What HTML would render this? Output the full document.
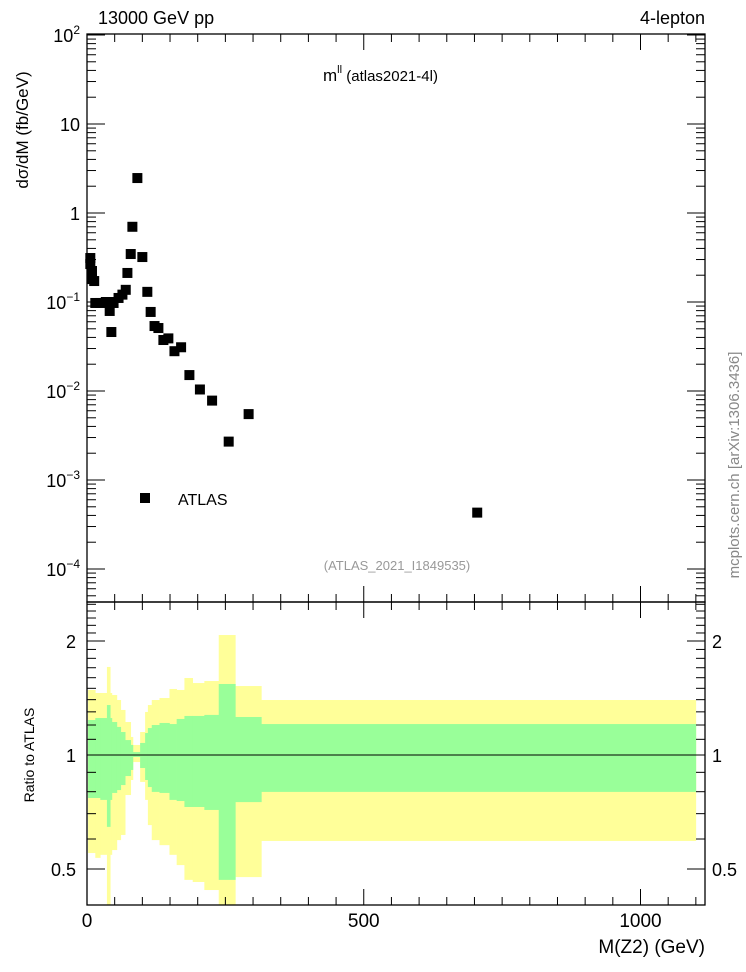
<!DOCTYPE html>
<html><head><meta charset="utf-8"><style>
html,body{margin:0;padding:0;background:#fff;}
svg{display:block;font-family:"Liberation Sans",Arial,sans-serif;}
</style></head><body>
<svg id="chart" width="746" height="972" viewBox="0 0 746 972" xmlns="http://www.w3.org/2000/svg">
<g id="bands"></g>
<g id="marks"></g>
<g id="axes"></g>
<text x="98" y="24" font-size="18">13000 GeV pp</text>
<text x="705" y="24" font-size="18" text-anchor="end">4-lepton</text>
<text x="323" y="81" font-size="17">m<tspan font-size="11" dy="-8">ll</tspan><tspan dy="8" font-size="15"> (atlas2021-4l)</tspan></text>
<rect x="140" y="493" width="10" height="10" fill="#000"/>
<text x="178" y="505" font-size="16">ATLAS</text>
<text x="397" y="570" font-size="13" fill="#999" text-anchor="middle">(ATLAS_2021_I1849535)</text>
<text transform="translate(739,465) rotate(-90)" font-size="15" fill="#888" text-anchor="middle">mcplots.cern.ch [arXiv:1306.3436]</text>
<text transform="translate(28,130) rotate(-90)" font-size="17" text-anchor="middle">dσ/dM (fb/GeV)</text>
<text transform="translate(34,755) rotate(-90)" font-size="14" text-anchor="middle">Ratio to ATLAS</text>
<text x="705" y="953" font-size="19" text-anchor="end">M(Z2) (GeV)</text>
</svg>
<script>
const xVals=[91,82,79,100,6,6,9,73,9,13,70,109,64,57,15,24,34,43,48,41,115,44,122,129,138,147,158,170,185,204,226,256,292,705];
const yVals=[2.47,0.70,0.346,0.32,0.312,0.267,0.223,0.212,0.181,0.172,0.137,0.130,0.121,0.111,0.0975,0.0975,0.100,0.100,0.0975,0.0793,0.0773,0.046,0.0537,0.051,0.0374,0.039,0.028,0.031,0.0151,0.0104,0.0078,0.0027,0.0055,0.00043];
const binEdges=[2,15,24,36,42,45,54,61,69,79,83,96,105,110,117,131,149,162,176,191,212,238,268,315,1100];
const greenUp=[1.237,1.252,1.252,1.355,1.252,1.222,1.186,1.150,1.095,1.063,1.018,1.076,1.143,1.178,1.200,1.215,1.207,1.245,1.268,1.268,1.276,1.540,1.260,1.207];
const greenDn=[0.770,0.770,0.761,0.646,0.761,0.794,0.808,0.833,0.880,0.913,0.988,0.924,0.859,0.823,0.799,0.794,0.761,0.756,0.729,0.729,0.716,0.468,0.751,0.799];
const yellowUp=[1.485,1.458,1.458,1.708,1.458,1.440,1.397,1.315,1.222,1.116,1.063,1.150,1.299,1.355,1.397,1.414,1.494,1.485,1.597,1.549,1.568,2.074,1.521,1.397];
const yellowDn=[0.551,0.535,0.545,0.40,0.545,0.561,0.596,0.615,0.784,0.859,0.958,0.849,0.761,0.653,0.596,0.578,0.545,0.512,0.468,0.462,0.440,0.40,0.476,0.593];
const xTickLabels=[0,500,1000];
const yTickExp=[2,1,0,-1,-2,-3,-4];
const ratioTicks=[2,1,0.5];

const NS="http://www.w3.org/2000/svg";
const L=87,R=705,T=34,B1=602,B2=905;
const X=v=>L+v*0.5535;
const Y=v=>213-89*Math.log10(v);
const RY=v=>755-114*Math.log2(v);
const clipR=y=>Math.max(B1,Math.min(B2,y));
function mk(tag,attrs,parent){const e=document.createElementNS(NS,tag);for(const k in attrs)e.setAttribute(k,attrs[k]);parent.appendChild(e);return e;}
const bands=document.getElementById('bands'),marks=document.getElementById('marks'),axes=document.getElementById('axes');
for(let i=0;i<greenUp.length;i++){
  const x0=X(binEdges[i]),x1=Math.min(X(binEdges[i+1]),R);
  const ya=clipR(RY(yellowUp[i])),yb=clipR(RY(yellowDn[i]));
  const r=mk('rect',{x:x0,y:ya,width:x1-x0+0.3,height:yb-ya,fill:'#ffff99'},bands);
  
  
}
for(let i=0;i<greenUp.length;i++){
  const x0=X(binEdges[i]),x1=Math.min(X(binEdges[i+1]),R);
  const ga=clipR(RY(greenUp[i])),gb=clipR(RY(greenDn[i]));
  const r=mk('rect',{x:x0,y:ga,width:x1-x0+0.3,height:gb-ga,fill:'#99ff99'},bands);
  
  
}
const one=mk('line',{x1:L,x2:R,y1:RY(1),y2:RY(1),stroke:'#000','stroke-width':1},bands);


for(let i=0;i<xVals.length;i++){
  const m=mk('rect',{x:X(xVals[i])-5,y:Y(yVals[i])-5,width:10,height:10,fill:'#000'},marks);
  
  
}
// frames
for(const [y0,y1] of [[T,B1],[B1,B2]]){
  const f=mk('rect',{x:L,y:y0,width:R-L,height:y1-y0,fill:'none',stroke:'#000','stroke-width':1.3},axes);
  
  
}
// x ticks
for(let v=0;v<=1100;v+=50){
  const x=X(v);const major=v%500===0;const len=major?18:(v%100===0?9:9);
  for(const [yb,dir] of [[T,1],[B1,-1],[B1,1],[B2,-1]]){
    mk('line',{x1:x,x2:x,y1:yb,y2:yb+dir*(major?16:8),stroke:'#000','stroke-width':1},axes);
  }
}
xTickLabels.forEach(v=>{
  const t=mk('text',{x:X(v),y:927,'font-size':19,'text-anchor':'middle'},axes);
  t.textContent=v;
  
  
});
// y log ticks
for(let e=-5;e<=2;e++){
  for(let m=1;m<10;m++){
    const v=m*Math.pow(10,e);const y=Y(v);
    if(y<T-0.5||y>B1)continue;
    const len=m===1?18:9;
    mk('line',{x1:L,x2:L+len,y1:y,y2:y,stroke:'#000','stroke-width':1},axes);
    mk('line',{x1:R,x2:R-len,y1:y,y2:y,stroke:'#000','stroke-width':1},axes);
  }
}
yTickExp.forEach(e=>{
  const y=Y(Math.pow(10,e));
  const t=mk('text',{x:80,y:y+7,'font-size':18,'text-anchor':'end'},axes);
  if(e===1)t.textContent='10';else if(e===0)t.textContent='1';
  else{t.textContent='10';const s=mk('tspan',{'font-size':12,dy:-8},t);s.textContent=String(e).replace('-','−');}
  
  
});
// ratio ticks
const rmin=[0.4,0.5,0.6,0.7,0.8,0.9,1,1.1,1.2,1.3,1.4,1.5,1.6,1.7,1.8,1.9,2,2.1,2.2,2.3,2.4,2.5];
rmin.forEach(v=>{const y=RY(v);if(y<B1||y>B2)return;const major=ratioTicks.includes(v);const len=major?18:9;
  mk('line',{x1:L,x2:L+len,y1:y,y2:y,stroke:'#000','stroke-width':1},axes);
  mk('line',{x1:R,x2:R-len,y1:y,y2:y,stroke:'#000','stroke-width':1},axes);});
ratioTicks.forEach(v=>{
  const y=RY(v);
  const t=mk('text',{x:76,y:y+7,'font-size':18,'text-anchor':'end'},axes);t.textContent=v;
  
  
  const t2=mk('text',{x:712,y:y+7,'font-size':18},axes);t2.textContent=v;
  
  
});
</script>
</body></html>
